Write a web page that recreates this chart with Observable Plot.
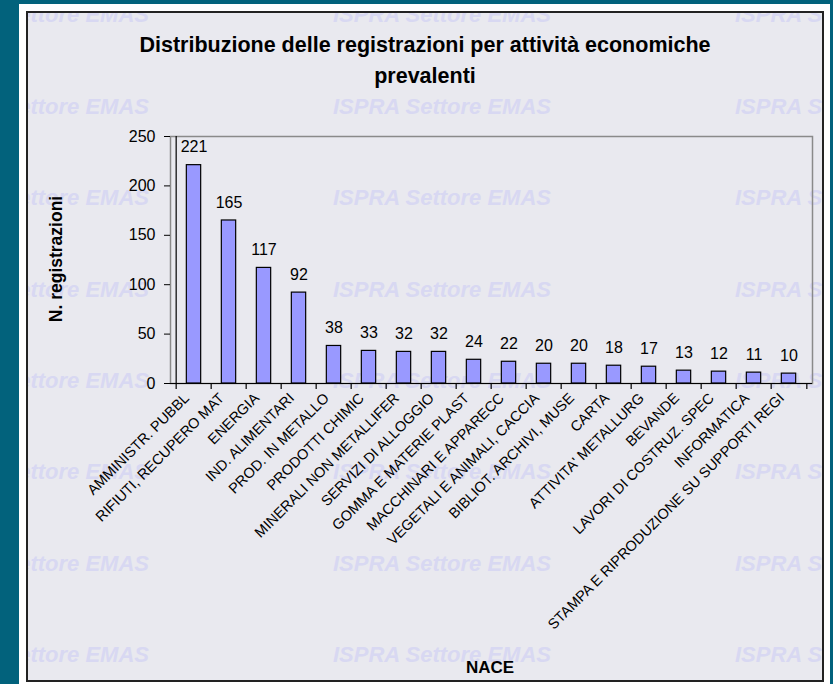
<!DOCTYPE html>
<html>
<head>
<meta charset="utf-8">
<script src="https://cdn.jsdelivr.net/npm/d3@7"></script>
<script src="https://cdn.jsdelivr.net/npm/@observablehq/plot@0.6"></script>
<style>
  html, body { margin: 0; padding: 0; }
  body { width: 833px; height: 684px; background: #02627c; position: relative; overflow: hidden;
         font-family: "Liberation Sans", Arial, sans-serif; }
  #white { position: absolute; left: 19px; top: 4px; width: 811px; height: 690px; background: #fff; }
  #panel { position: absolute; left: 26px; top: 11px; width: 798px; height: 671px; box-sizing: border-box;
           border: 2px solid #222; background: #e9e9ef; overflow: hidden; }
  .wm { position: absolute; font: italic bold 22px "Liberation Sans", Arial, sans-serif; color: #d8d8f2;
        line-height: 22px; white-space: nowrap; }
  #chart { position: absolute; left: 0; top: 0; }
  #title { position: absolute; left: 26px; width: 798px; top: 30px; text-align: center;
           font: bold 21.5px "Liberation Sans", Arial, sans-serif; line-height: 31px; color: #000; }
  #ylab { position: absolute; left: 57px; top: 259px; transform: translate(-50%, -50%) rotate(-90deg);
          font: bold 17.5px "Liberation Sans", Arial, sans-serif; line-height: 1; white-space: nowrap; color: #000; }
  #xlab { position: absolute; left: 490px; top: 659px; transform: translateX(-50%);
          font: bold 17px "Liberation Sans", Arial, sans-serif; line-height: 1; white-space: nowrap; color: #000; }
</style>
</head>
<body>
<div id="white"></div>
<div id="panel"></div>
<div id="chart"></div>
<div id="title">Distribuzione delle registrazioni per attività economiche<br>prevalenti</div>
<div id="ylab">N. registrazioni</div>
<div id="xlab">NACE</div>
<script>
const categories = [
  "AMMINISTR. PUBBL",
  "RIFIUTI, RECUPERO MAT",
  "ENERGIA",
  "IND. ALIMENTARI",
  "PROD. IN METALLO",
  "PRODOTTI CHIMIC",
  "MINERALI NON METALLIFER",
  "SERVIZI DI ALLOGGIO",
  "GOMMA E MATERIE PLAST",
  "MACCHINARI E APPARECC",
  "VEGETALI E ANIMALI, CACCIA",
  "BIBLIOT. ARCHIVI, MUSE",
  "CARTA",
  "ATTIVITA' METALLURG",
  "BEVANDE",
  "LAVORI DI COSTRUZ. SPEC",
  "INFORMATICA",
  "STAMPA E RIPRODUZIONE SU SUPPORTI REGI"
];
const registrations = [221, 165, 117, 92, 38, 33, 32, 32, 24, 22, 20, 20, 18, 17, 13, 12, 11, 10];
const yTicks = [0, 50, 100, 150, 200, 250];
const watermarkText = "ISPRA Settore EMAS";

// watermark (decoration)
const panel = document.getElementById("panel");
const wmCols = [-97, 305, 707];
for (let r = 0; r < 8; r++) {
  for (const cx of wmCols) {
    const s = document.createElement("span");
    s.className = "wm";
    s.textContent = watermarkText;
    s.style.left = cx + "px";
    s.style.top = (10 + r * 91.4 - 18.6) + "px";
    panel.appendChild(s);
  }
}

const data = categories.map((c, i) => ({cat: c, value: registrations[i]}));

const W = 833, H = 684, mL = 170, mR = 21, mT = 136, mB = 301;
const bw = (W - mL - mR) / categories.length;
const barW = 15;
const inset = (bw - barW) / 2;

const chart = Plot.plot({
  width: W, height: H,
  marginLeft: mL, marginRight: mR, marginTop: mT, marginBottom: mB,
  style: {background: "transparent", color: "#000", fontFamily: "'Liberation Sans', Arial, sans-serif", overflow: "visible"},
  x: {domain: categories, padding: 0, axis: null},
  y: {domain: [0, 250], axis: null},
  marks: [
    Plot.frame({stroke: "#8a8a8a", strokeWidth: 1.5}),
    Plot.barY(data, {x: "cat", y: "value", fill: "#9999ff", stroke: "#000", strokeWidth: 1.2,
                     insetLeft: inset, insetRight: inset}),
    Plot.ruleY([0], {stroke: "#000", strokeWidth: 1.2}),
    Plot.ruleX([categories[0]], {x: d => d, dx: -bw / 2, stroke: "#000", strokeWidth: 1.2}),
    Plot.ruleX(categories, {x: d => d, y1: 0, y2: 0, insetBottom: -6, dx: -bw / 2, stroke: "#000", strokeWidth: 1.2}),
    Plot.ruleX([categories[categories.length - 1]], {x: d => d, y1: 0, y2: 0, insetBottom: -6, dx: bw / 2, stroke: "#000", strokeWidth: 1.2}),
    Plot.axisY({ticks: yTicks, tickSize: 6, tickPadding: 9, fontSize: 16, label: null, tickFormat: d => String(d)}),
    Plot.text(data, {x: "cat", y: "value", text: d => String(d.value), dy: -18, fontSize: 16, fill: "#000"}),
    Plot.text(categories, {x: d => d, frameAnchor: "bottom", text: d => d, rotate: -45, textAnchor: "end",
                           fontSize: 14.5, fill: "#000", dx: -4, dy: 15.5})
  ]
});
document.getElementById("chart").appendChild(chart);
</script>
</body>
</html>
